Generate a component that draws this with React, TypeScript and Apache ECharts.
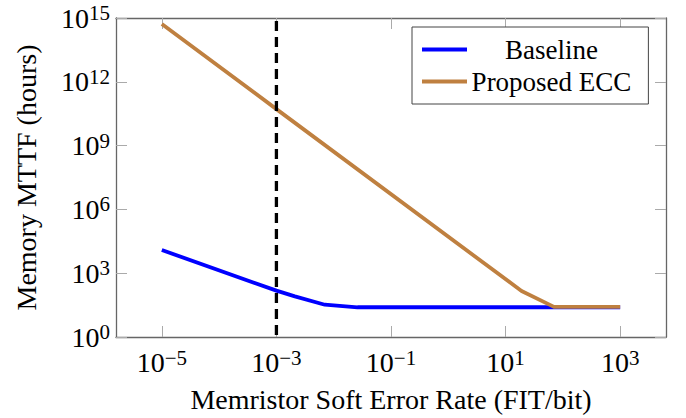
import React, { useEffect, useRef } from 'react';
import * as echarts from 'echarts';

// ---- data ----
const seriesNames = ['Baseline', 'Proposed ECC'];
const baselineX = [1e-5, 1e-3, 2.1e-3, 7e-3, 2.6e-2, 1e3];
const baselineY = [12300, 151, 81, 33, 25, 25];
const proposedX = [1e-5, 1e-3, 19, 70, 1e3];
const proposedY = [5.2e14, 5.2e10, 145, 26, 26];
const thresholdX = [1e-3, 1e-3];
const thresholdY = [1, 1e15];
const xTicks = [1e-5, 1e-3, 1e-1, 1e1, 1e3];
const xMin = Math.pow(10, -5.8);
const xMax = Math.pow(10, 3.8);
const yMin = 1;
const yMax = 1e15;
const yInterval = 3; // decades between y ticks
const xTitle = 'Memristor Soft Error Rate (FIT/bit)';
const yTitle = 'Memory MTTF (hours)';

const FONT = '"Liberation Serif", "Times New Roman", serif';
const AXIS_COLOR = '#666';
const TICK_COLOR = '#aaa';

const powLabel = (v: number) => {
  const e = Math.round(Math.log10(v));
  const es = e < 0 ? '\u2212' + -e : String(e);
  return `{b|10}{s|${es}}`;
};

const rich = {
  b: { fontSize: 28, fontFamily: FONT, color: '#000' },
  s: { fontSize: 21, fontFamily: FONT, color: '#000', padding: [0, 0, 10, 0] },
};

export default function App() {
  const ref = useRef<HTMLDivElement>(null);
  useEffect(() => {
    if (!ref.current) return;
    const chart = echarts.init(ref.current, undefined, { renderer: 'svg' });
    const axisLine = { show: true, lineStyle: { color: AXIS_COLOR, width: 1.3 } };
    const tickStyle = { show: true, inside: true, length: 11, lineStyle: { color: TICK_COLOR, width: 1 } };
    const option: any = {
      animation: false,
      backgroundColor: '#fff',
      grid: { left: 116, right: 20, top: 18, bottom: 78 },
      legend: {
        orient: 'vertical',
        left: 412,
        top: 27,
        data: seriesNames,
        icon: 'rect',
        itemWidth: 45,
        itemHeight: 4,
        itemGap: 5,
        padding: [9, 17, 9, 10],
        backgroundColor: '#fff',
        borderColor: '#444',
        borderWidth: 1,
        borderRadius: 0,
        formatter: (n: string) => `{t|${n}}`,
        textStyle: {
          fontSize: 27,
          lineHeight: 27,
          fontFamily: FONT,
          color: '#000',
          rich: {
            t: { width: 159, align: 'center', fontSize: 27, lineHeight: 27, fontFamily: FONT, color: '#000' },
          },
        },
      },
      xAxis: [
        {
          type: 'log',
          logBase: 10,
          min: xMin,
          max: xMax,
          position: 'bottom',
          axisLine,
          axisTick: { ...tickStyle, customValues: xTicks },
          minorTick: { show: false },
          splitLine: { show: false },
          axisLabel: { customValues: xTicks, formatter: powLabel, rich, margin: 10 },
          name: xTitle,
          nameLocation: 'middle',
          nameGap: 48,
          nameTextStyle: { fontSize: 28, fontFamily: FONT, color: '#000' },
        },
        {
          type: 'log',
          logBase: 10,
          min: xMin,
          max: xMax,
          position: 'top',
          axisLine,
          axisTick: { ...tickStyle, customValues: xTicks },
          minorTick: { show: false },
          splitLine: { show: false },
          axisLabel: { show: false },
        },
      ],
      yAxis: [
        {
          type: 'log',
          logBase: 10,
          min: yMin,
          max: yMax,
          interval: yInterval,
          position: 'left',
          axisLine,
          axisTick: tickStyle,
          minorTick: { show: false },
          splitLine: { show: false },
          axisLabel: { formatter: powLabel, rich, margin: 6 },
          name: yTitle,
          nameLocation: 'middle',
          nameGap: 76,
          nameRotate: 90,
          nameTextStyle: { fontSize: 28, fontFamily: FONT, color: '#000' },
        },
        {
          type: 'log',
          logBase: 10,
          min: yMin,
          max: yMax,
          interval: yInterval,
          position: 'right',
          axisLine,
          axisTick: tickStyle,
          minorTick: { show: false },
          splitLine: { show: false },
          axisLabel: { show: false },
        },
      ],
      series: [
        {
          name: seriesNames[0],
          type: 'line',
          data: baselineX.map((x, i) => [x, baselineY[i]]),
          showSymbol: false,
          symbol: 'none',
          color: '#0000ff',
          lineStyle: { color: '#0000ff', width: 3.8, join: 'round' },
          z: 2,
        },
        {
          name: seriesNames[1],
          type: 'line',
          data: proposedX.map((x, i) => [x, proposedY[i]]),
          showSymbol: false,
          symbol: 'none',
          color: '#bf8040',
          lineStyle: { color: '#bf8040', width: 3.8, join: 'round' },
          z: 3,
        },
        {
          name: 'threshold',
          type: 'line',
          data: thresholdX.map((x, i) => [x, thresholdY[i]]),
          showSymbol: false,
          symbol: 'none',
          silent: true,
          color: '#000',
          lineStyle: { color: '#000', width: 3.3, type: [10, 6], dashOffset: -2 },
          z: 4,
        },
      ],
    };
    chart.setOption(option);
    return () => chart.dispose();
  }, []);
  return (
    <div
      ref={ref}
      style={{ position: 'fixed', left: 0, top: 0, width: 686, height: 418, background: '#fff' }}
    />
  );
}
